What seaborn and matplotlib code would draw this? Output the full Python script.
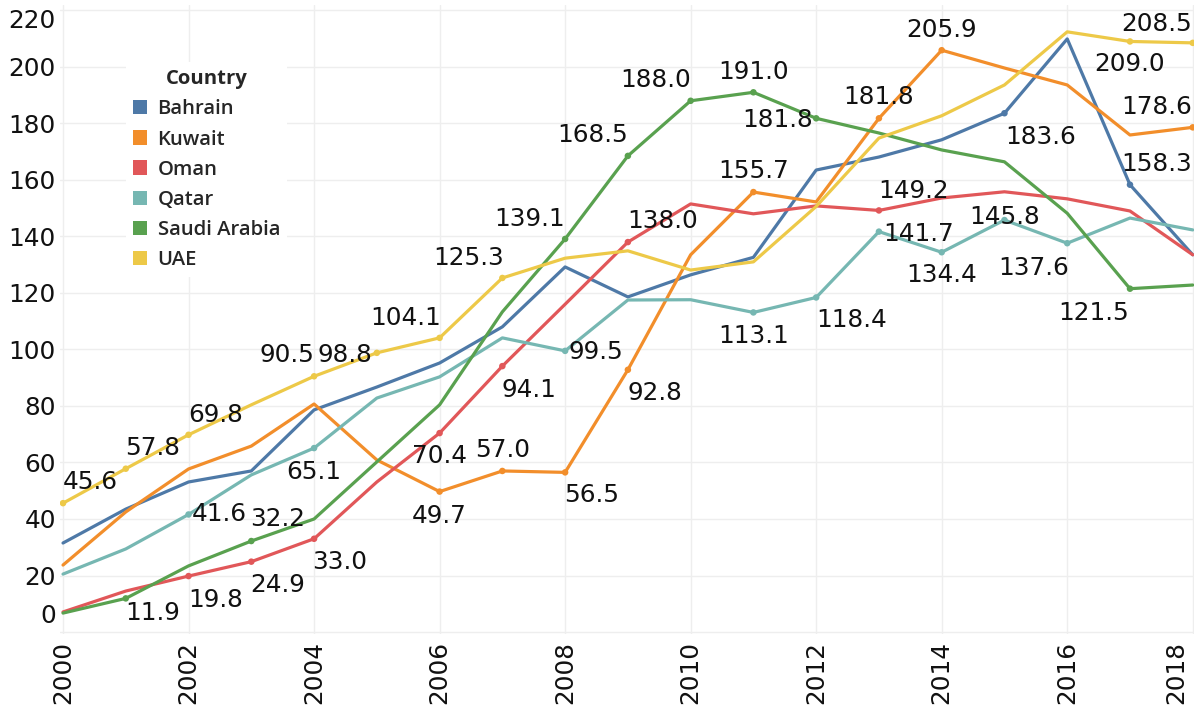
import pandas as pd
import numpy as np
import matplotlib.pyplot as plt
import matplotlib.transforms as mtransforms
from matplotlib.patches import Patch
import seaborn as sns


years = list(range(2000, 2019))
countries = ['Bahrain', 'Kuwait', 'Oman', 'Qatar', 'Saudi Arabia', 'UAE']

bahrain = [31.5, 43.5, 53.1, 57.0, 78.6, 86.7, 95.2, 108.0, 129.2, 118.6,
           126.4, 132.6, 163.5, 168.1, 174.2, 183.6, 209.9, 158.3, 133.5]
kuwait = [23.7, 42.5, 57.7, 65.8, 80.7, 60.9, 49.7, 57.0, 56.5, 92.8,
          133.5, 155.7, 152.2, 181.8, 205.9, 199.6, 193.6, 175.9, 178.6]
oman = [7.1, 14.5, 19.8, 24.9, 33.0, 53.1, 70.4, 94.1, 116.0, 138.0,
        151.5, 148.0, 150.8, 149.2, 153.6, 155.8, 153.3, 149.0, 133.5]
qatar = [20.5, 29.4, 41.6, 55.6, 65.1, 82.8, 90.3, 104.1, 99.5, 117.5,
         117.6, 113.1, 118.4, 141.7, 134.4, 145.8, 137.6, 146.5, 142.3]
saudi = [6.7, 11.9, 23.4, 32.2, 40.0, 60.2, 80.4, 113.3, 139.1, 168.5,
         188.0, 191.0, 181.8, 176.6, 170.6, 166.4, 148.2, 121.5, 122.8]
uae = [45.6, 57.8, 69.8, 80.4, 90.5, 98.8, 104.1, 125.3, 132.3, 134.9,
       128.1, 131.0, 150.6, 174.8, 182.7, 193.6, 212.4, 209.0, 208.5]

colors = ['#4e79a7', '#f28e2b', '#e15759', '#76b7b2', '#59a14f', '#edc948']

# which points carry a value label, and where the label sits (pixels, down is +)
labels = [
    ('UAE', 2000, 27, -21), ('UAE', 2001, 27, -21), ('UAE', 2002, 27, -20),
    ('UAE', 2004, -27, -21), ('UAE', 2005, -32, 2), ('UAE', 2006, -34, -20),
    ('UAE', 2007, -34, -20), ('UAE', 2017, 0, 23), ('UAE', 2018, -36, -19),
    ('Saudi Arabia', 2001, 27, 15), ('Saudi Arabia', 2003, 26, -22),
    ('Saudi Arabia', 2008, -36, -20), ('Saudi Arabia', 2009, -35, -21),
    ('Saudi Arabia', 2010, -35, -21), ('Saudi Arabia', 2011, 0, -20),
    ('Saudi Arabia', 2012, -39, 2), ('Saudi Arabia', 2017, -36, 24),
    ('Oman', 2002, 27, 24), ('Oman', 2003, 26, 23), ('Oman', 2004, 26, 23),
    ('Oman', 2006, 0, 23), ('Oman', 2007, 27, 24), ('Oman', 2009, 35, -21),
    ('Oman', 2013, 35, -19),
    ('Kuwait', 2006, 0, 24), ('Kuwait', 2007, 0, -21), ('Kuwait', 2008, 27, 23),
    ('Kuwait', 2009, 27, 23), ('Kuwait', 2011, 0, -21), ('Kuwait', 2013, 0, -21),
    ('Kuwait', 2014, 0, -20), ('Kuwait', 2018, -36, -20),
    ('Qatar', 2002, 31, 0), ('Qatar', 2004, 0, 24), ('Qatar', 2008, 31, 1),
    ('Qatar', 2011, 0, 24), ('Qatar', 2012, 35, 23), ('Qatar', 2013, 40, 2),
    ('Qatar', 2014, 0, 23), ('Qatar', 2015, 0, -3), ('Qatar', 2016, -34, 25),
    ('Bahrain', 2015, 36, 24), ('Bahrain', 2017, 27, -21),
]


def build_frame():
    frames = []
    for name, vals in zip(countries, [bahrain, kuwait, oman, qatar, saudi, uae]):
        frames.append(pd.DataFrame({'Year': years, 'Value': vals, 'Country': name}))
    return pd.concat(frames, ignore_index=True)


def plot_lines(df, ax):
    palette = dict(zip(countries, colors))
    sns.lineplot(data=df, x='Year', y='Value', hue='Country', palette=palette,
                 linewidth=2.3, legend=False, ax=ax)

    lab = pd.DataFrame(labels, columns=['Country', 'Year', 'dx', 'dy'])
    lab = lab.merge(df, on=['Country', 'Year'])
    sns.scatterplot(data=lab, x='Year', y='Value', hue='Country', palette=palette,
                    s=22, linewidth=0, legend=False, ax=ax, zorder=3)

    for _, row in lab.iterrows():
        ax.annotate('{:.1f}'.format(row['Value']), (row['Year'], row['Value']),
                    xytext=(row['dx'], -row['dy']), textcoords='offset pixels',
                    ha='center', va='center', fontsize=17.8, color='#111111',
                    zorder=4)


def style_axes(fig, ax):
    ax.set_xlim(1999.952, 2018.02)
    ax.set_ylim(-0.7, 221.9)
    ax.set_xticks(list(range(2000, 2019, 2)))
    ax.set_yticks(list(range(0, 221, 20)))
    ax.set_xlabel('')
    ax.set_ylabel('')
    ax.tick_params(axis='both', length=0, labelsize=17.8, colors='#111111')
    ax.tick_params(axis='y', pad=3)
    ax.tick_params(axis='x', pad=5, labelrotation=90)
    for s in ax.spines.values():
        s.set_visible(False)
    ax.grid(True, color='#eeeeee', linewidth=1.0)

    # Tableau nudges the end labels inside the view
    ylabs = ax.get_yticklabels()
    ylabs[0].set_transform(ylabs[0].get_transform() +
                           mtransforms.ScaledTranslation(0, 0.19, fig.dpi_scale_trans))
    ylabs[-1].set_transform(ylabs[-1].get_transform() +
                            mtransforms.ScaledTranslation(0, -0.08, fig.dpi_scale_trans))
    xlabs = ax.get_xticklabels()
    xlabs[-1].set_transform(xlabs[-1].get_transform() +
                            mtransforms.ScaledTranslation(-0.16, 0, fig.dpi_scale_trans))


def add_legend(fig, ax):
    handles = [Patch(facecolor=c, edgecolor='none', label=n)
               for n, c in zip(countries, colors)]
    leg = ax.legend(handles=handles, title='Country', loc='upper left',
                    bbox_to_anchor=(116 / 1196, 1 - 52 / 706),
                    bbox_transform=fig.transFigure, frameon=True, fancybox=False,
                    facecolor='white', edgecolor='none', framealpha=1,
                    handlelength=0.7, handleheight=0.7, handletextpad=0.5,
                    labelspacing=0.5, borderpad=0.35,
                    prop={'family': 'Open Sans', 'weight': 'semibold', 'size': 14.6},
                    title_fontproperties={'family': 'Open Sans', 'weight': 'bold',
                                          'size': 14.6})
    leg.set_zorder(5)


if __name__ == '__main__':
    sns.set_style('whitegrid')
    fig = plt.figure(figsize=(11.96, 7.06), dpi=100)
    ax = fig.add_axes([60 / 1196, 72 / 706, 1134 / 1196, 629 / 706])
    df = build_frame()
    plot_lines(df, ax)
    style_axes(fig, ax)
    add_legend(fig, ax)
    fig.savefig('out.png', dpi=100)
